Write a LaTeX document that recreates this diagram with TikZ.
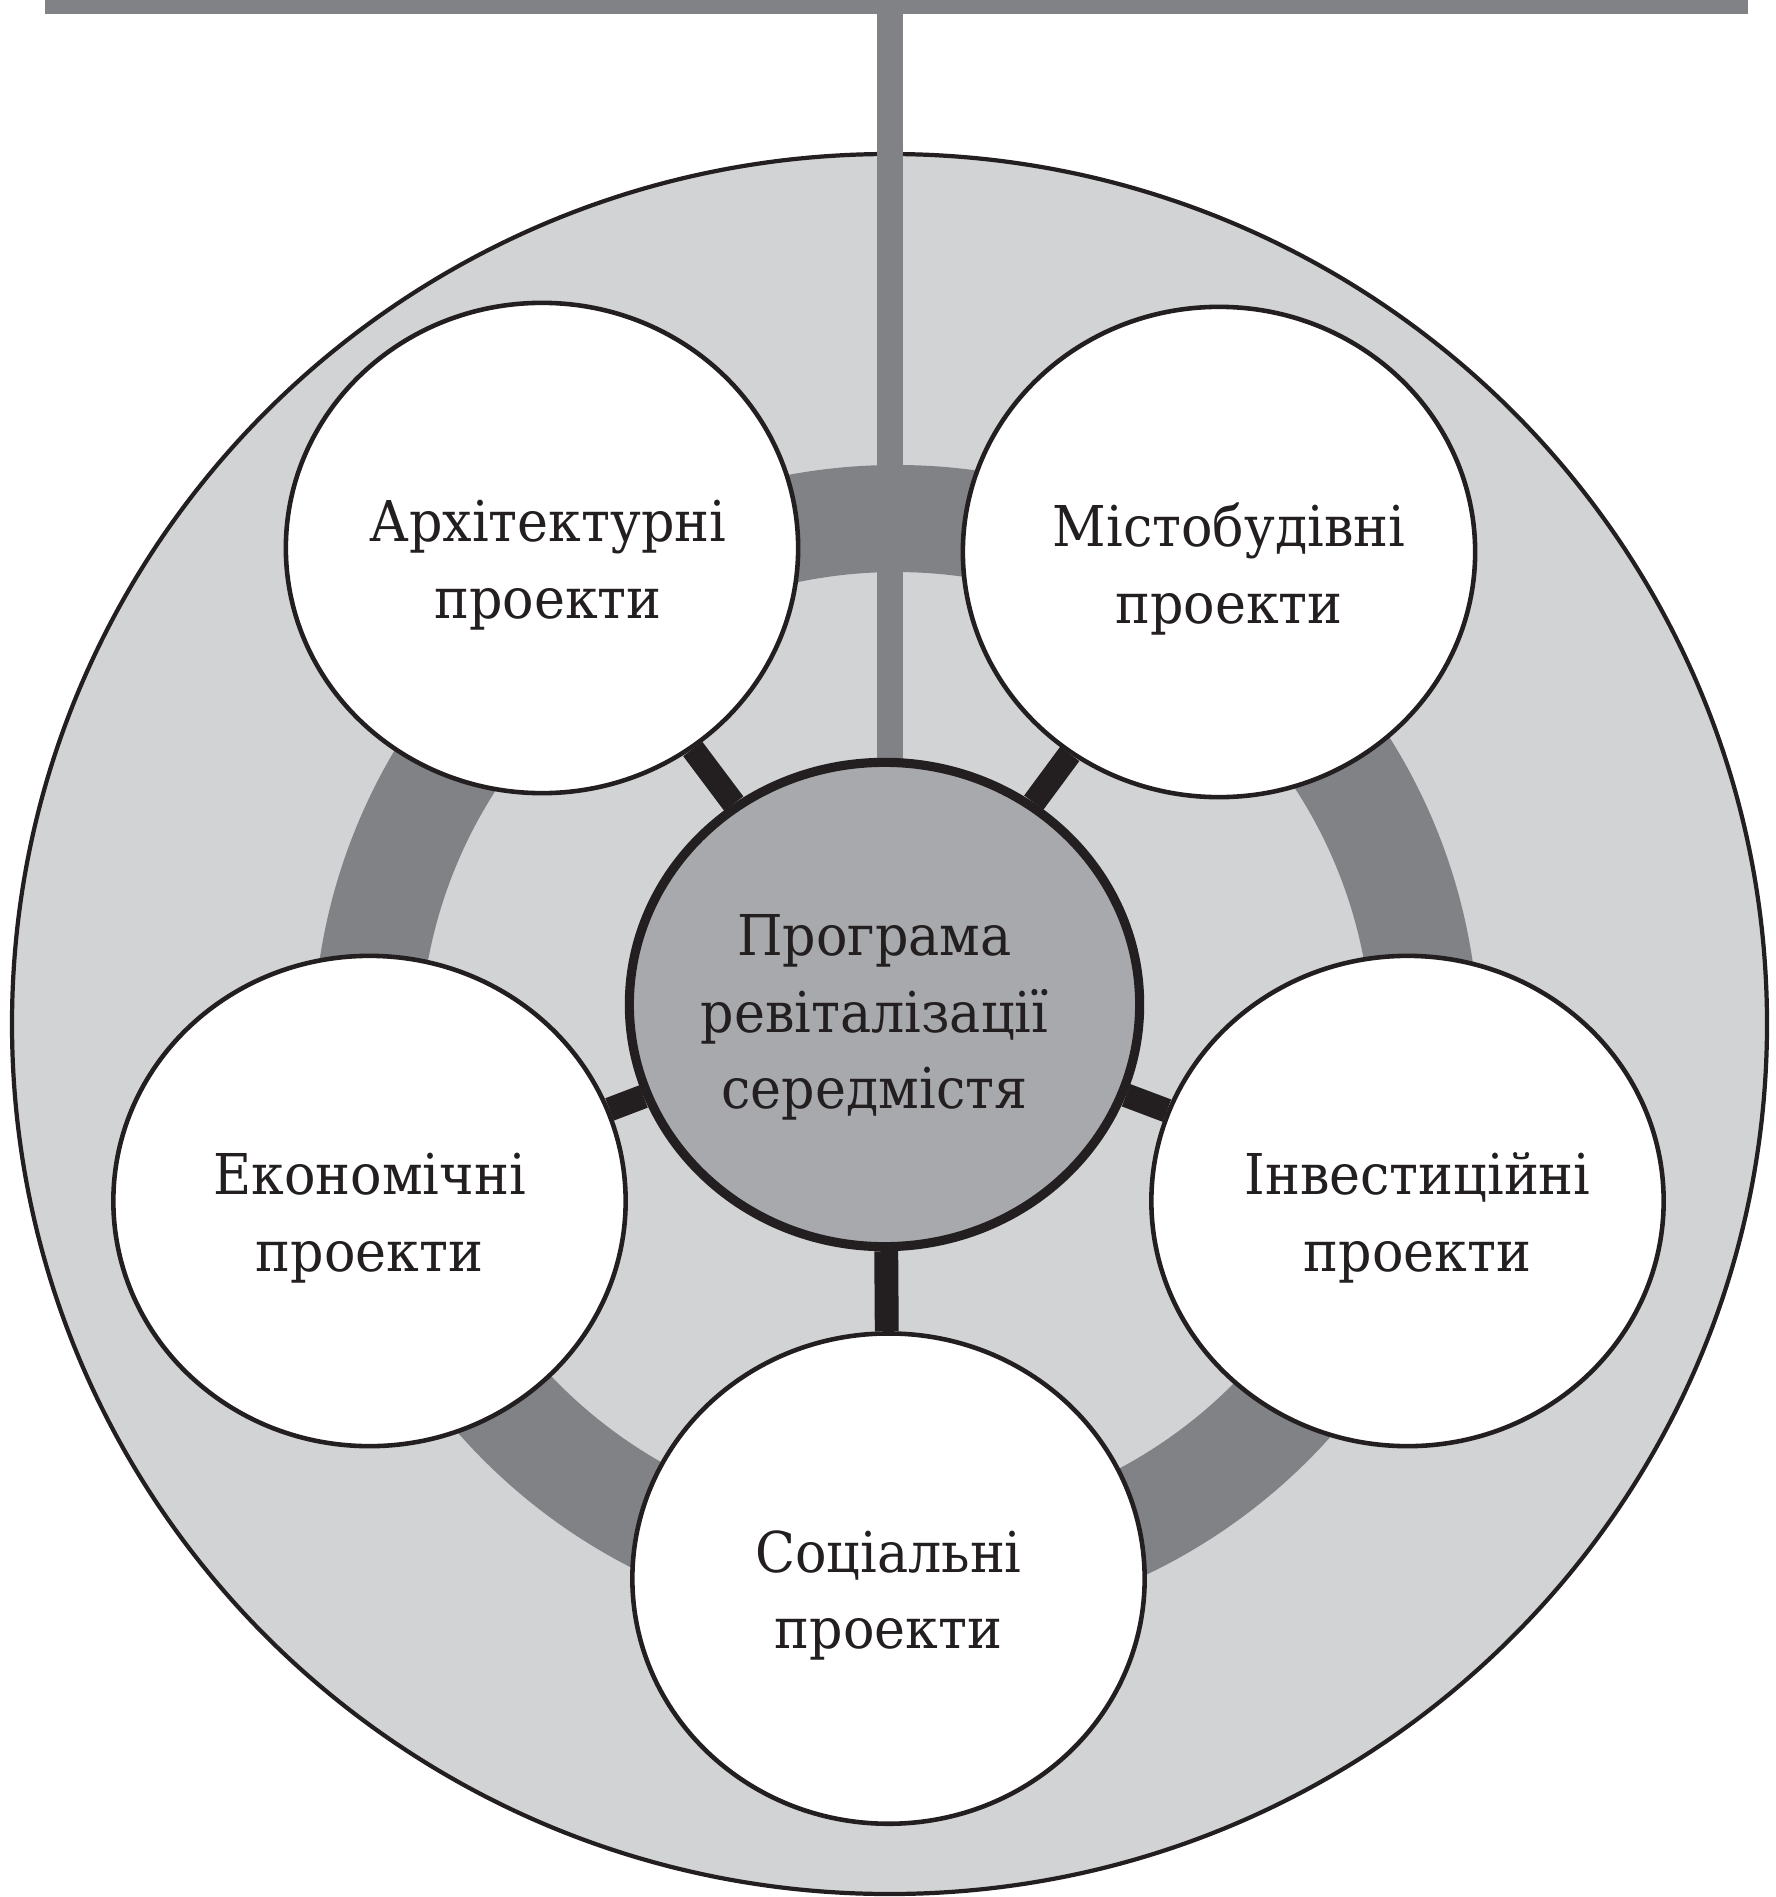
\documentclass[tikz,border=0pt]{standalone}
\usepackage{fontspec}
\setmainfont{DejaVu Serif}[FakeStretch=0.93]
\usetikzlibrary{shapes.geometric}
\definecolor{pale}{HTML}{D1D3D4}
\definecolor{band}{HTML}{808285}
\definecolor{core}{HTML}{A7A9AC}
\definecolor{ink}{HTML}{231F20}
\begin{document}
\begin{tikzpicture}[x=.01cm, y=-.01cm, font=\rmfamily\fontsize{16}{21.8}\selectfont, line join=round,
	proj/.style={ellipse, draw=ink, line width=1.3pt, fill=white, inner sep=0pt, minimum width=5.12cm, minimum height=4.9cm},
	tx/.style={text=ink, align=center, yshift=-.17cm},
	link/.style={ink, line width=6.8pt}]
	\useasboundingbox (0,0) rectangle (1775,1897);
	% outer disc and ring
	\filldraw[fill=pale, draw=ink, line width=1.2pt] (889.5,1024) ellipse [x radius=877.5, y radius=870];
	\draw[band, line width=1.07cm] (896,1048) circle [radius=529.5];
	% top bar and stem
	\fill[band] (45,0) rectangle (1748,14);
	\fill[band] (877,0) rectangle (903,800);
	% circles
	\node[proj, fill=core, line width=2.6pt, minimum width=5.1cm, minimum height=4.84cm,
		label={[tx, xshift=-.1cm, yshift=.04cm]center:Програма\\ревіталізації\\середмістя}] (prog) at (884.5,1004.5) {};
	\node[proj, label={[tx, xshift=.06cm]center:Архітектурні\\проекти}] (arch) at (542,548) {};
	\node[proj, label={[tx, xshift=.1cm]center:Містобудівні\\проекти}] (misto) at (1219,552) {};
	\node[proj, label={[tx]center:Економічні\\проекти}] (econ) at (369.5,1201) {};
	\node[proj, label={[tx, xshift=.1cm]center:Інвестиційні\\проекти}] (invest) at (1407.5,1201) {};
	\node[proj, label={[tx]center:Соціальні\\проекти}] (social) at (888.5,1578.6) {};
	\foreach \p in {arch, misto, econ, invest, social}
		\draw[link] (prog) -- (\p);
\end{tikzpicture}
\end{document}
